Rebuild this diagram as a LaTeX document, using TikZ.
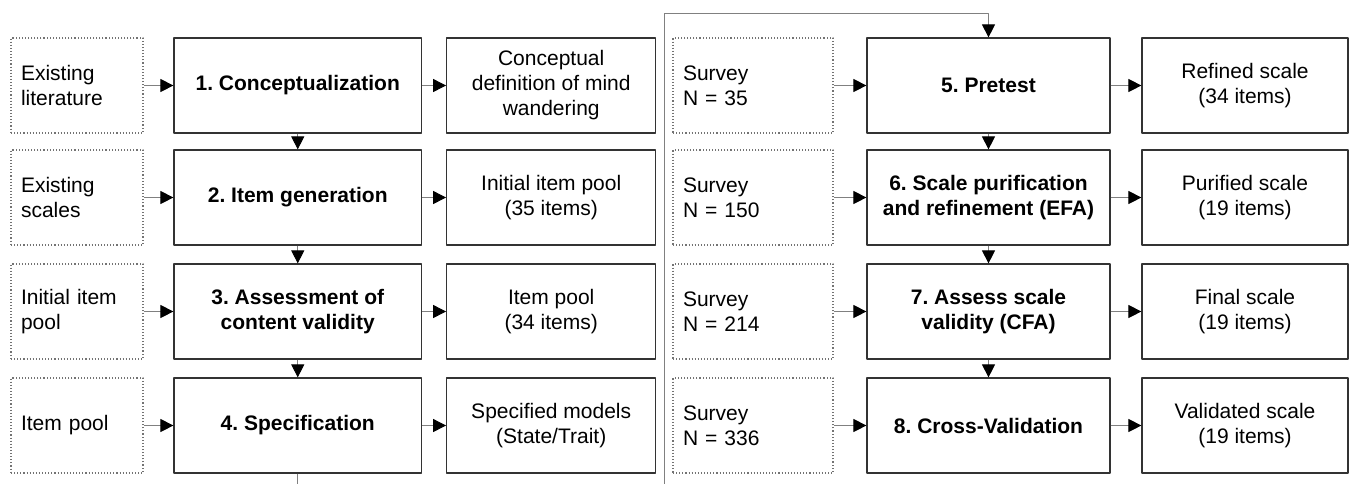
\documentclass[tikz,border=0pt]{standalone}
\usepackage{fontspec}
\setmainfont{Liberation Sans}
\usetikzlibrary{arrows.meta}
\frenchspacing
\begin{document}
\begin{tikzpicture}[
  x=1pt, y=-1pt,
  line join=round,
  every node/.style={font=\fontsize{21}{25}\selectfont, inner sep=0pt},
  srcbox/.style={draw=black!55, dotted, line width=1.1pt, minimum height=95pt,
    align=left, inner xsep=10pt},
  stepbox/.style={draw=black!80, line width=1.2pt, minimum height=95pt,
    align=center, font=\fontsize{21}{25}\selectfont\bfseries},
  outbox/.style={draw=black!80, line width=1.2pt, minimum height=95pt, align=center},
  link/.style={draw=black!50, line width=0.9pt,
    -{Triangle[length=13pt,width=13pt,color=black]}},
]
\path[use as bounding box, fill=white] (0,0) rectangle (1349,483);

% steps 1 to 4
\foreach \i/\y/\src/\stp/\res in {
  1/85.5/{Existing\\literature}/{1. Conceptualization}/{Conceptual\\definition of mind\\wandering},
  2/197.5/{Existing\\scales}/{2. Item generation}/{Initial item pool\\(35 items)},
  3/311.5/{Initial item\\pool}/{3. Assessment of\\content validity}/{Item pool\\(34 items)},
  4/425.5/{Item pool}/{4. Specification}/{Specified models\\({State/Trait})}} {
  \node[srcbox, text width=112pt] (src\i) at (77,\y) {\src};
  \node[stepbox, minimum width=247.5pt] (step\i) at (297.75,\y) {\stp};
  \node[outbox, minimum width=209pt] (out\i) at (551.2,\y) {\res};
  \draw[link] (src\i) -- (step\i);
  \draw[link] (step\i) -- (out\i);
}

% steps 5 to 8
\foreach \i/\y/\src/\stp/\res in {
  5/85.5/{Survey\\N = 35}/{5. Pretest}/{Refined scale\\(34 items)},
  6/197.5/{Survey\\N = 150}/{6. Scale purification\\and refinement (EFA)}/{Purified scale\\(19 items)},
  7/311.5/{Survey\\N = 214}/{7. Assess scale\\validity (CFA)}/{Final scale\\(19 items)},
  8/425.5/{Survey\\N = 336}/{8. Cross-Validation}/{Validated scale\\(19 items)}} {
  \node[srcbox, text width=140pt] (src\i) at (753,\y) {\src};
  \node[stepbox, minimum width=243pt] (step\i) at (988.5,\y) {\stp};
  \node[outbox, minimum width=206pt] (out\i) at (1245,\y) {\res};
  \draw[link] (src\i) -- (step\i);
  \draw[link] (step\i) -- (out\i);
}

% the chain of steps
\foreach \i/\j in {1/2,2/3,3/4,5/6,6/7,7/8} { \draw[link] (step\i) -- (step\j); }

% from step 4 round to step 5
\coordinate (turn) at (664,13);
\draw[link] (step4.south) -- ++(0,20) -| (turn) -| (step5.north);

\end{tikzpicture}
\end{document}
